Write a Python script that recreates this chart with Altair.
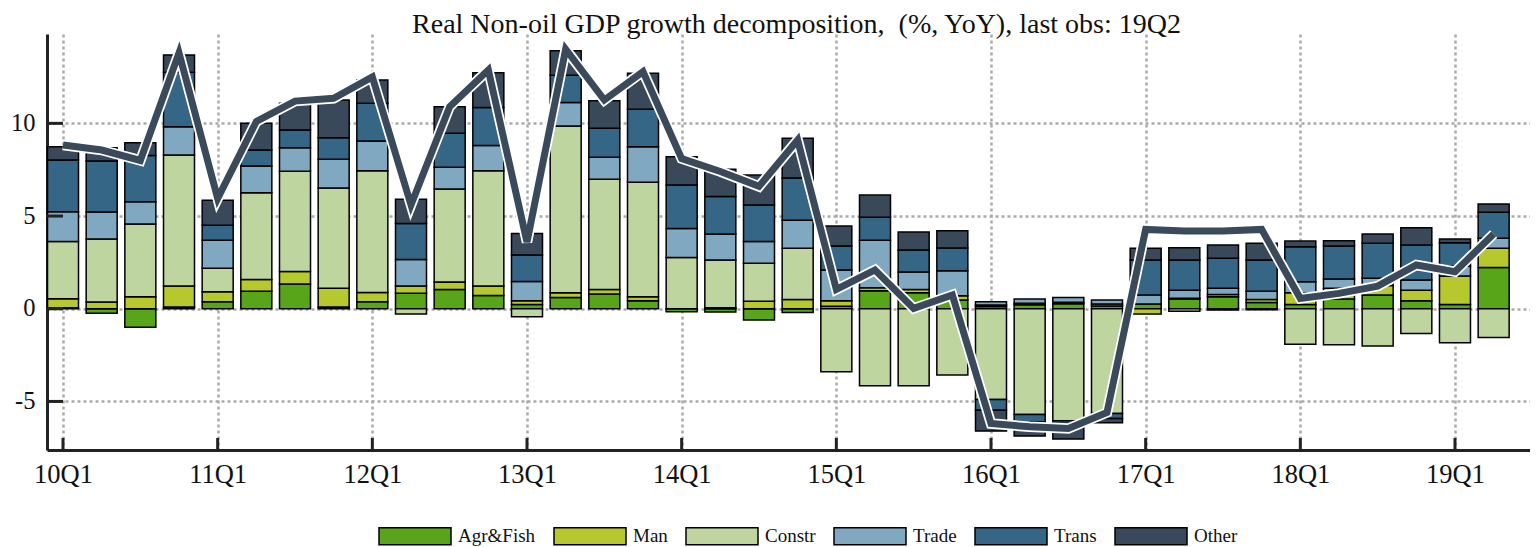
import altair as alt
import pandas as pd

title_text = "Real Non-oil GDP growth decomposition,\u00a0 (%, YoY), last obs: 19Q2"

quarters = ["10Q1", "10Q2", "10Q3", "10Q4", "11Q1", "11Q2", "11Q3", "11Q4",
            "12Q1", "12Q2", "12Q3", "12Q4", "13Q1", "13Q2", "13Q3", "13Q4",
            "14Q1", "14Q2", "14Q3", "14Q4", "15Q1", "15Q2", "15Q3", "15Q4",
            "16Q1", "16Q2", "16Q3", "16Q4", "17Q1", "17Q2", "17Q3", "17Q4",
            "18Q1", "18Q2", "18Q3", "18Q4", "19Q1", "19Q2"]

sectors = ["Agr&Fish", "Man", "Constr", "Trade", "Trans", "Other"]
colors = ["#59a51a", "#b6c82d", "#bed5a0", "#80a8c0", "#356686", "#39495a"]

agr = [0.05, -0.25, -1.0, 0.1, 0.38, 0.94, 1.33, 0.1, 0.38, 0.83, 1.04, 0.72,
       0.23, 0.61, 0.79, 0.43, -0.16, -0.18, -0.61, -0.2, 0.14, 0.97, 0.86, 0.47,
       0.12, 0.22, 0.27, 0.15, 0.25, 0.52, 0.65, 0.34, 0.23, 0.52, 0.74, 0.43,
       0.23, 2.23]
man = [0.49, 0.36, 0.65, 1.12, 0.54, 0.64, 0.68, 1.0, 0.5, 0.39, 0.40, 0.5,
       0.2, 0.25, 0.25, 0.22, 0.0, 0.05, 0.41, 0.5, 0.29, 0.16, 0.18, 0.23,
       0.08, 0.07, 0.08, 0.1, -0.29, 0.04, 0.12, 0.16, 0.63, 0.58, 0.52, 0.57,
       1.53, 1.03]
constr = [3.09, 3.40, 3.92, 7.07, 1.26, 4.68, 5.40, 5.41, 6.57, -0.29, 5.02, 6.23,
          -0.43, 9.0, 5.94, 6.17, 2.77, 2.58, 2.04, 2.76, -3.4, -4.15, -4.15, -3.58,
          -4.89, -5.70, -6.04, -5.65, 0.0, -0.13, -0.07, -0.05, -1.91, -1.94, -2.01, -1.33,
          -1.83, -1.55]
trade = [1.6, 1.46, 1.20, 1.53, 1.51, 1.44, 1.28, 1.55, 1.6, 1.44, 1.17, 1.36,
         1.04, 1.27, 1.19, 1.92, 1.56, 1.40, 1.18, 1.51, 1.66, 2.57, 0.94, 1.35,
         0.18, 0.23, 0.25, 0.22, 0.49, 0.44, 0.33, 0.45, 0.6, 0.5, 0.38, 0.55,
         0.54, 0.54]
trans = [2.79, 2.75, 2.49, 2.93, 0.81, 0.86, 0.95, 1.17, 2.03, 1.94, 1.83, 2.04,
         1.43, 1.47, 1.56, 2.02, 2.34, 2.03, 1.96, 2.28, 1.29, 1.23, 1.19, 1.22,
         -0.58, -0.40, -0.15, -0.27, 1.89, 1.63, 1.62, 1.68, 1.89, 1.78, 1.89, 1.89,
         1.26, 1.4]
other = [0.72, 0.72, 0.70, 0.94, 1.35, 1.44, 1.44, 2.03, 1.26, 1.3, 1.44, 1.88,
         1.16, 1.32, 1.49, 1.94, 1.53, 1.47, 1.62, 2.14, 1.08, 1.2, 0.97, 0.94,
         -1.13, -0.77, -0.84, -0.23, 0.63, 0.66, 0.72, 0.9, 0.3, 0.29, 0.5, 0.93,
         0.2, 0.45]
total = [8.83, 8.56, 8.0, 13.8, 5.95, 10.1, 11.2, 11.35, 12.5, 5.6, 10.9, 12.88,
         3.6, 14.0, 11.26, 12.79, 8.1, 7.4, 6.6, 9.1, 1.04, 2.09, 0.02, 0.74,
         -6.19, -6.37, -6.46, -5.6, 4.28, 4.2, 4.2, 4.28, 0.56, 0.83, 1.22, 2.36,
         2.0, 4.03]

x_ticks = [0, 4, 8, 12, 16, 20, 24, 28, 32, 36]
y_ticks = [-5, 0, 5, 10]

series = [agr, man, constr, trade, trans, other]
rows = []
for k, (name, vals) in enumerate(zip(sectors, series)):
    for i, v in enumerate(vals):
        if v != 0:
            rows.append({"idx": i, "q": quarters[i], "sector": name, "ord": k, "value": v})
bars_df = pd.DataFrame(rows)
line_df = pd.DataFrame({"idx": list(range(len(quarters))), "total": total})
xt_df = pd.DataFrame({"idx": x_ticks})
yt_df = pd.DataFrame({"value": y_ticks})
title_df = pd.DataFrame({"t": [title_text]})

FONT = "Liberation Serif"
W, H = 1483, 416
xscale = alt.Scale(domain=[-0.414, 37.94], nice=False, zero=False, padding=0)
yscale = alt.Scale(domain=[-7.62, 14.82], nice=False, zero=False, padding=0)

label_expr = "[" + ",".join("'%s'" % q for q in quarters) + "][datum.value]"

xaxis = alt.Axis(values=x_ticks, labelExpr=label_expr, title=None, grid=True,
                 gridColor="#aaaaaa", gridDash=[3, 3], gridWidth=2.5,
                 domainColor="#222222", domainWidth=3, ticks=True, tickSize=0,
                 tickWidth=0, labelPadding=11, labelFont=FONT, labelFontSize=26.5,
                 labelColor="#111111", labelFlush=False)
yaxis = alt.Axis(values=y_ticks, labelExpr="'' + datum.value", title=None, grid=True,
                 gridColor="#aaaaaa", gridDash=[3, 3], gridWidth=2.5,
                 domainColor="#222222", domainWidth=3, ticks=True, tickSize=0,
                 tickWidth=0, labelPadding=12, labelFont=FONT, labelFontSize=24.5,
                 labelColor="#111111")

bars = alt.Chart(bars_df).mark_bar(size=31, stroke="black", strokeWidth=1.5).encode(
    x=alt.X("idx:Q", scale=xscale, axis=xaxis),
    y=alt.Y("value:Q", stack="zero", scale=yscale, axis=yaxis),
    color=alt.Color("sector:N", sort=sectors,
                    scale=alt.Scale(domain=sectors, range=colors),
                    legend=alt.Legend(
                        title=None, orient="none", direction="horizontal", columns=6,
                        legendX=331, legendY=465, padding=0, columnPadding=15,
                        labelOffset=6, labelFont=FONT, labelFontSize=19,
                        labelColor="#111111",
                        symbolType="M-1,-0.236H1V0.236H-1Z", symbolSize=5184,
                        symbolStrokeColor="black", symbolStrokeWidth=1.5,
                        symbolOpacity=1)),
    order=alt.Order("ord:Q", sort="ascending"),
)

line_white = alt.Chart(line_df).mark_line(color="white", strokeWidth=10.5,
                                          strokeJoin="miter").encode(
    x=alt.X("idx:Q", scale=xscale), y=alt.Y("total:Q", scale=yscale))
line_dark = alt.Chart(line_df).mark_line(color="#3a4a5b", strokeWidth=7,
                                         strokeJoin="miter").encode(
    x=alt.X("idx:Q", scale=xscale), y=alt.Y("total:Q", scale=yscale))

xticks = alt.Chart(xt_df).mark_rule(color="#222222", strokeWidth=3).encode(
    x=alt.X("idx:Q", scale=xscale), y=alt.value(H), y2=alt.value(H - 12))
yticks = alt.Chart(yt_df).mark_rule(color="#222222", strokeWidth=3).encode(
    y=alt.Y("value:Q", scale=yscale), x=alt.value(0), x2=alt.value(16))

title = alt.Chart(title_df).mark_text(
    font=FONT, fontSize=28, color="#111111", align="center", baseline="alphabetic"
).encode(text="t:N", x=alt.value(749.5), y=alt.value(-1))

chart = alt.layer(bars, line_white, line_dark, xticks, yticks, title).properties(
    width=W, height=H,
    autosize=alt.AutoSizeParams(type="none"),
    padding={"left": 39, "top": 26, "right": 0, "bottom": 97},
).configure_view(stroke=None).configure_axis(labelFlush=False)

chart.save("out.html", embed_options={"renderer": "svg", "actions": False})
